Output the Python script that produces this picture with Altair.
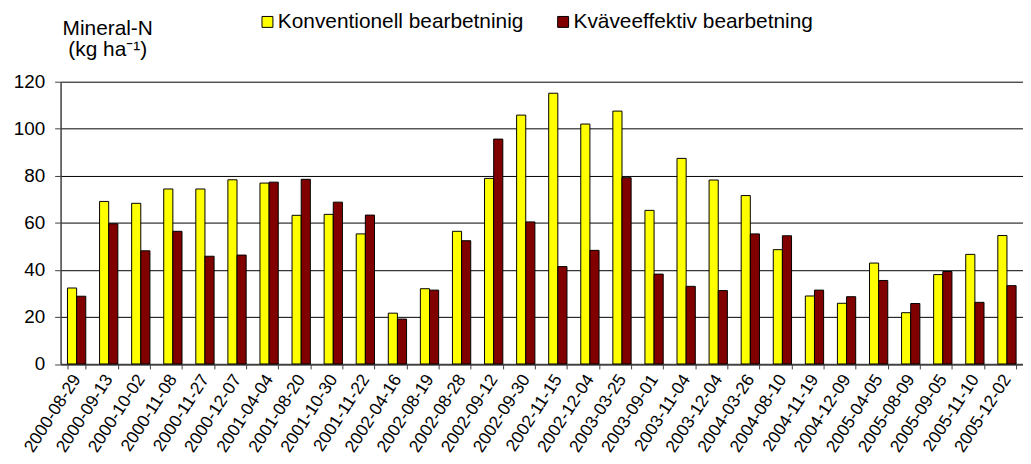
import altair as alt
import pandas as pd

dates = ["2000-08-29", "2000-09-13", "2000-10-02", "2000-11-08", "2000-11-27",
         "2000-12-07", "2001-04-04", "2001-08-20", "2001-10-30", "2001-11-22",
         "2002-04-16", "2002-08-19", "2002-08-28", "2002-09-12", "2002-09-30",
         "2002-11-15", "2002-12-04", "2003-03-25", "2003-09-01", "2003-11-04",
         "2003-12-04", "2004-03-26", "2004-08-10", "2004-11-19", "2004-12-09",
         "2005-04-05", "2005-08-09", "2005-09-05", "2005-11-10", "2005-12-02"]

konventionell = [32.3, 69.1, 68.3, 74.4, 74.4, 78.3, 76.9, 63.2, 63.6, 55.3,
                 21.6, 32.0, 56.4, 78.9, 105.8, 115.1, 102.0, 107.5, 65.3, 87.4,
                 78.2, 71.6, 48.6, 28.9, 25.8, 42.9, 21.8, 38.0, 46.6, 54.6]

kvaveeffektiv = [28.8, 59.6, 48.1, 56.4, 45.8, 46.3, 77.3, 78.5, 68.8, 63.3,
                 19.1, 31.4, 52.4, 95.6, 60.4, 41.4, 48.3, 79.2, 38.2, 33.0,
                 31.2, 55.3, 54.5, 31.4, 28.6, 35.5, 25.7, 39.3, 26.2, 33.3]

series_names = ["Konventionell bearbetninig", "Kväveeffektiv bearbetning"]
series_colors = ["#FFFF00", "#800000"]
y_ticks = [0, 20, 40, 60, 80, 100, 120]

rows = []
for d, a, b in zip(dates, konventionell, kvaveeffektiv):
    rows.append({"date": d, "series": series_names[0], "value": a})
    rows.append({"date": d, "series": series_names[1], "value": b})
df = pd.DataFrame(rows)

FONT = "Liberation Sans"

chart = alt.Chart(df).mark_bar(stroke="black", strokeWidth=1).encode(
    x=alt.X("date:N", sort=dates,
            scale=alt.Scale(paddingInner=0.43, paddingOuter=0.215),
            axis=alt.Axis(title=None, labelAngle=-57, labelAlign="right",
                          labelBaseline="middle", labelFontSize=17.5,
                          labelFont=FONT, labelColor="black", labelPadding=7,
                          tickBand="extent", tickSize=5, tickColor="#404040",
                          domainColor="#404040", domainWidth=1.5, grid=False)),
    xOffset=alt.XOffset("series:N", sort=series_names),
    y=alt.Y("value:Q", scale=alt.Scale(domain=[0, 120], nice=False),
            axis=alt.Axis(values=y_ticks, grid=True, gridColor="black",
                          gridWidth=1, domainColor="#404040", domainWidth=1.5,
                          tickColor="#404040", tickSize=6, labelFontSize=19,
                          labelFont=FONT, labelColor="black", labelPadding=10,
                          title=["Mineral-N", "(kg ha⁻¹)"], titleAngle=0,
                          titleAlign="center", titleBaseline="top",
                          titleX=47, titleY=-65, titleFontSize=21,
                          titleFont=FONT, titleFontWeight="normal",
                          titleColor="black", titleLineHeight=22)),
    color=alt.Color("series:N",
                    scale=alt.Scale(domain=series_names, range=series_colors),
                    legend=alt.Legend(title=None, orient="none", legendX=198,
                                      legendY=-71, direction="horizontal",
                                      symbolType="square", symbolSize=121,
                                      symbolStrokeColor="black",
                                      symbolStrokeWidth=1, labelFontSize=21,
                                      labelFont=FONT, labelColor="black",
                                      labelOffset=0, columnPadding=29,
                                      labelLimit=400)),
).properties(
    width=970, height=284.5,
    autosize=alt.AutoSizeParams(type="none"),
    padding={"left": 53, "top": 72.5, "right": 0, "bottom": 96},
).configure_view(strokeWidth=0)

chart.save("out.html", embed_options={"renderer": "svg", "actions": False})
